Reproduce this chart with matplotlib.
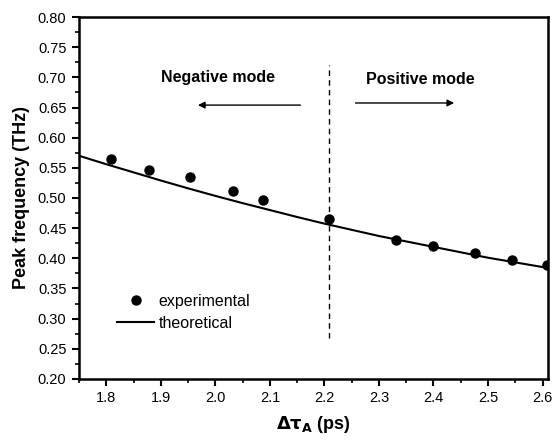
import matplotlib
matplotlib.use("Agg")
import matplotlib.pyplot as plt
from matplotlib.ticker import MultipleLocator

plt.rcParams['font.family'] = ['Liberation Sans', 'DejaVu Sans']

# Experimental points
exp_x = [1.809, 1.879, 1.953, 2.033, 2.087, 2.209, 2.332, 2.399, 2.477, 2.544, 2.608]
exp_y = [0.564, 0.546, 0.534, 0.512, 0.496, 0.465, 0.431, 0.421, 0.409, 0.397, 0.389]

# Theoretical curve
th_x = [1.75, 1.80, 1.85, 1.90, 1.95, 2.00, 2.05, 2.10, 2.15, 2.20, 2.30, 2.40, 2.50, 2.61]
th_y = [0.570, 0.556, 0.5425, 0.529, 0.516, 0.5035, 0.4915, 0.480, 0.4685, 0.4575,
        0.437, 0.419, 0.401, 0.384]

boundary_x = 2.209

fig = plt.figure(figsize=(5.52, 4.43), dpi=100)
ax = fig.add_axes([0.1431, 0.1445, 0.8497, 0.8171])

ax.plot(th_x, th_y, color='black', lw=1.5, label='theoretical', zorder=2)
ax.plot(exp_x, exp_y, 'o', color='black', ms=6.5, label='experimental', zorder=3)
ax.plot([boundary_x, boundary_x], [0.268, 0.720], color='black', lw=1.0,
        ls=(0, (4, 3)), zorder=1)

ax.set_xlim(1.75, 2.61)
ax.set_ylim(0.20, 0.80)
ax.xaxis.set_major_locator(MultipleLocator(0.1))
ax.xaxis.set_minor_locator(MultipleLocator(0.05))
ax.yaxis.set_major_locator(MultipleLocator(0.05))
ax.yaxis.set_minor_locator(MultipleLocator(0.025))
ax.xaxis.set_major_formatter(matplotlib.ticker.FormatStrFormatter('%.1f'))
ax.yaxis.set_major_formatter(matplotlib.ticker.FormatStrFormatter('%.2f'))
ax.tick_params(which='major', direction='out', length=5, width=1.5, labelsize=10.5, pad=4)
ax.tick_params(which='minor', direction='out', length=3, width=1.2)
for s in ax.spines.values():
    s.set_linewidth(1.8)

ax.set_xlabel(r'$\mathbf{\Delta\tau_A}$ (ps)', fontsize=13, fontweight='bold', labelpad=6)
ax.set_ylabel('Peak frequency (THz)', fontsize=13, fontweight='bold', labelpad=6)

ax.text(2.005, 0.700, 'Negative mode', fontsize=11.5, fontweight='bold', ha='center', va='center')
ax.text(2.375, 0.697, 'Positive mode', fontsize=11.5, fontweight='bold', ha='center', va='center')
ax.annotate('', xy=(1.963, 0.654), xytext=(2.161, 0.654),
            arrowprops=dict(arrowstyle='-|>', color='black', lw=1.0, mutation_scale=10))
ax.annotate('', xy=(2.443, 0.6575), xytext=(2.252, 0.6575),
            arrowprops=dict(arrowstyle='-|>', color='black', lw=1.0, mutation_scale=10))

handles, labels = ax.get_legend_handles_labels()
ax.legend(handles[::-1], labels[::-1], loc='lower left', bbox_to_anchor=(0.067, 0.115),
          frameon=False, fontsize=11.5, handlelength=2.35, handletextpad=0.25,
          labelspacing=0.45, borderaxespad=0)

fig.savefig('out.png', dpi=100)
